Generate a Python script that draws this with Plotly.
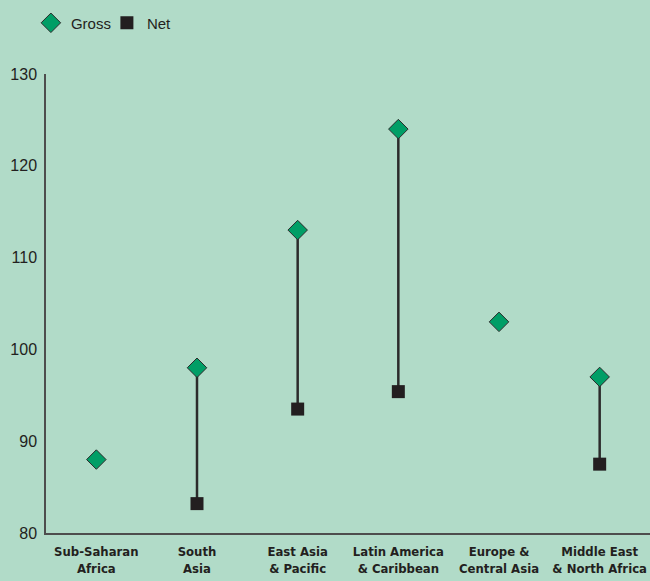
import plotly.graph_objects as go

categories = ["Sub-Saharan<br>Africa", "South<br>Asia", "East Asia<br>& Pacific",
              "Latin America<br>& Caribbean", "Europe &<br>Central Asia", "Middle East<br>& North Africa"]
gross = [88, 98, 113, 124, 103, 97]
net = [None, 83.2, 93.5, 95.4, None, 87.5]
y_ticks = [80, 90, 100, 110, 120, 130]

BG = "#b1dbc8"

line_x, line_y = [], []
for c, g, n in zip(categories, gross, net):
    if n is not None:
        line_x += [c, c, None]
        line_y += [g, n, None]

fig = go.Figure()
fig.add_trace(go.Scatter(x=line_x, y=line_y, mode="lines",
                         line=dict(color="#2b2b2b", width=2.5),
                         showlegend=False, hoverinfo="skip"))
fig.add_trace(go.Scatter(x=categories, y=gross, mode="markers", name="Gross",
                         marker=dict(symbol="diamond", size=15, color="#009e66",
                                     line=dict(color="#2b2b2b", width=1))))
fig.add_trace(go.Scatter(x=categories, y=net, mode="markers", name="Net",
                         marker=dict(symbol="square", size=13, color="#231f20",
                                     line=dict(width=0))))

fig.update_layout(
    width=650, height=581,
    margin=dict(l=46, r=0, t=74, b=48, autoexpand=False),
    paper_bgcolor=BG, plot_bgcolor=BG,
    font=dict(family="Liberation Sans, Arial, sans-serif", size=15, color="#231f20"),
    legend=dict(orientation="h", x=-0.025, y=1.111, xanchor="left", yanchor="middle",
                bgcolor="rgba(0,0,0,0)", font=dict(size=15), entrywidth=31),
    xaxis=dict(type="category", categoryorder="array", categoryarray=categories,
               range=[-0.5, 5.5], showgrid=False, zeroline=False, automargin=False,
               showline=True, linecolor="#4d4d4d", linewidth=1.5, ticks="", tickangle=0,
               ticklabelstandoff=6,
               tickfont=dict(family="DejaVu Sans Condensed, Liberation Sans Narrow, sans-serif",
                             size=13, weight="bold", color="#231f20")),
    yaxis=dict(range=[80, 130], tickvals=y_ticks, showgrid=False, zeroline=False,
               automargin=False,
               showline=True, linecolor="#4d4d4d", linewidth=1.5, ticks="",
               ticklabelstandoff=4,
               tickfont=dict(size=16, color="#231f20")),
)

fig.write_html("out.html")
